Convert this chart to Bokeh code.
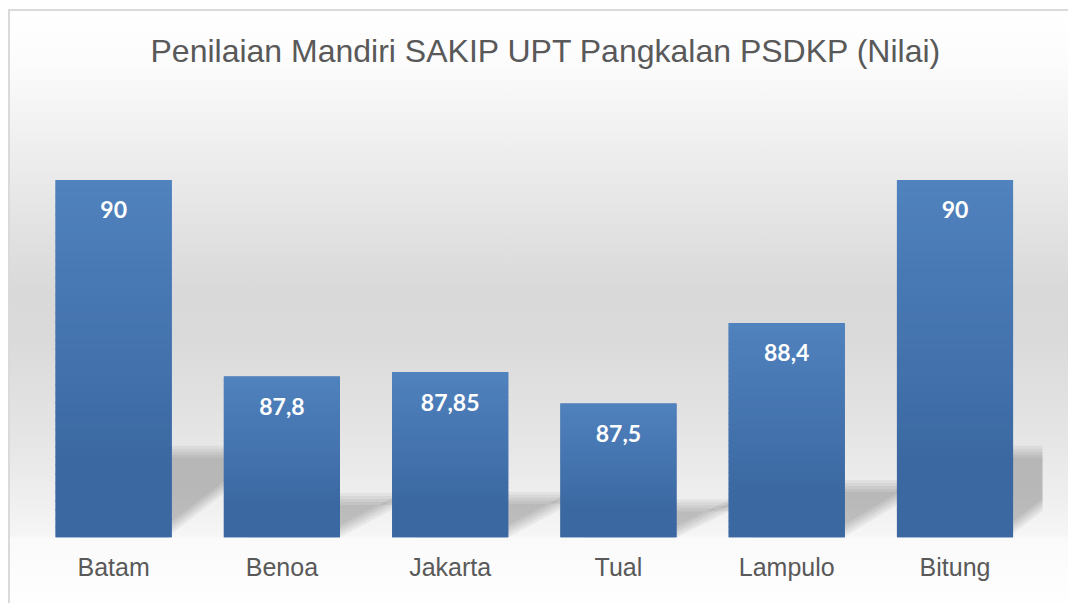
from bokeh.plotting import figure
from bokeh.models import Range1d, FixedTicker
from bokeh.core.properties import value
from bokeh.embed import file_html
from bokeh.resources import INLINE

# ---- data ----
categories = ["Batam", "Benoa", "Jakarta", "Tual", "Lampulo", "Bitung"]
values = [90, 87.8, 87.85, 87.5, 88.4, 90]
value_labels = ["90", "87,8", "87,85", "87,5", "88,4", "90"]
title_text = "Penilaian Mandiri SAKIP UPT Pangkalan PSDKP (Nilai)"
y_min, y_max = 86, 91

positions = list(range(len(categories)))
BAR_W = 0.69
HALF = BAR_W / 2

p = figure(width=1068, height=603,
           x_range=Range1d(-0.5, len(categories) - 0.48),
           y_range=Range1d(y_min, y_max),
           output_backend="svg", toolbar_location=None,
           y_axis_location=None,
           min_border_left=29, min_border_right=26,
           min_border_top=90, min_border_bottom=66)

p.background_fill_alpha = 0
p.border_fill_alpha = 0
p.outline_line_color = None
p.xgrid.visible = False
p.ygrid.visible = False
p.styles = {
    "background": (
        "linear-gradient(#dadada,#dadada) 8px 9px / 2px 100% no-repeat, "
        "linear-gradient(#dadada,#dadada) 8px 9px / 100% 2px no-repeat, "
        "linear-gradient(#ffffff,#ffffff) 0 0 / 8px 100% no-repeat, "
        "linear-gradient(#ffffff,#ffffff) 0 0 / 100% 9px no-repeat, "
        "linear-gradient(to bottom, #ffffff 0%, #ffffff 2%, #fcfcfc 10%, #eeeeee 25%, "
        "#d9d9d9 48%, #dadada 56%, #e4e4e4 71%, #efefef 83%, #f6f6f6 88.9%, "
        "#fafafa 89.2%, #fefefe 100%)"
    ),
}

# ---- shadows (soft, layered) ----
PX_Y = 447 / (y_max - y_min)
step = 3.0 / PX_Y
for k in range(5):
    xs, ys = [], []
    grow = (2 - k) * step
    for c, v in zip(positions, values):
        h = v - y_min
        R = c + HALF
        r0 = 0.02 * h + 0.03 - grow
        r1 = 0.1 * h + 0.289 - grow
        top = 0.24 * h + grow
        xs.append([c - 0.2, R - 0.02, R, R + 0.4, R + 0.4, c - 0.2])
        ys.append([y_min, y_min, y_min + max(r0, 0), y_min + r1, y_min + top, y_min + top])
    p.patches(xs, ys, fill_color="black", fill_alpha=0.046, line_color=None)

# ---- bars with vertical gradient ----
light = (80, 130, 190)
dark = (59, 104, 161)
p.vbar(x=positions, top=values, bottom=y_min, width=BAR_W,
       fill_color="#4472ad", line_color=None)
N = 40
gx, gt, gb, gc = [], [], [], []
for c, v in zip(positions, values):
    h = v - y_min
    for k in range(N):
        b = y_min + h * k / N
        t = y_min + h * (k + 1) / N
        frac_from_top = 1 - (k + 0.5) / N
        s = min(1.0, frac_from_top / 0.8)
        col = tuple(int(round(light[j] * (1 - s) + dark[j] * s)) for j in range(3))
        gx.append(c)
        gb.append(b)
        gt.append(min(t + h * 0.004, v))
        gc.append("#%02x%02x%02x" % col)
p.vbar(x=gx, top=gt, bottom=gb, width=BAR_W, fill_color=gc, line_color=None)

# ---- value labels ----
p.text(x=positions, y=values, text=value_labels,
       text_font=value("Lato"), text_font_style="bold", text_font_size="23px",
       text_color="white", text_align="center", text_baseline="alphabetic",
       y_offset=30)

# ---- title ----
p.title.text = title_text
p.title.align = "left"
p.title.offset = 121
p.title.text_font = "Liberation Sans"
p.title.text_font_size = "32px"
p.title.text_font_style = "normal"
p.title.text_color = "#595959"
p.title.standoff = 44

# ---- x axis ----
ax = p.xaxis[0]
ax.ticker = FixedTicker(ticks=positions)
ax.major_label_overrides = {pos: cat for pos, cat in zip(positions, categories)}
ax.axis_line_color = None
ax.major_tick_line_color = None
ax.minor_tick_line_color = None
ax.major_label_text_font = "Liberation Sans"
ax.major_label_text_font_size = "25px"
ax.major_label_text_color = "#595959"
ax.major_label_standoff = 9

open("out.html", "w").write(file_html(p, INLINE))
